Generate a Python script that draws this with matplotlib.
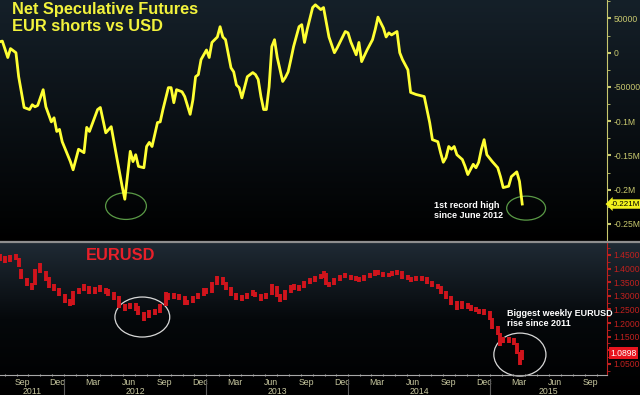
import matplotlib
matplotlib.use("Agg")
import matplotlib.pyplot as plt
import matplotlib.dates as mdates
import matplotlib.transforms as mtransforms
from matplotlib.colors import LinearSegmentedColormap
from matplotlib.patches import Ellipse
import numpy as np
import pandas as pd

# weekly data, week index counted from 2011-07-19
start = pd.Timestamp("2011-07-19")

# CFTC net speculative EUR positions (thousands of contracts)
cot_week = [0, 1, 3, 4, 6, 7, 9, 11, 12, 13,
            14, 16, 17, 19, 20, 21, 22, 23, 26, 27,
            29, 31, 32, 33, 36, 37, 39, 41, 43, 45,
            46, 48, 49, 50, 51, 53, 54, 55, 56, 58,
            59, 60, 62, 63, 64, 65, 67, 68, 70, 71,
            72, 73, 74, 76, 77, 78, 80, 81, 82, 83,
            85, 86, 87, 88, 89, 91, 93, 94, 95, 96,
            97, 98, 99, 100, 101, 102, 104, 105, 106, 107,
            108, 110, 111, 112, 113, 115, 116, 118, 119, 121,
            123, 124, 127, 128, 129, 131, 132, 133, 135, 137,
            138, 139, 141, 142, 143, 144, 146, 147, 148, 150,
            151, 153, 156, 157, 158, 159, 161, 162, 163, 164,
            165, 166, 167, 168, 170, 171, 172, 174, 175, 176,
            177, 178, 179, 181, 183, 184, 185, 187, 188, 190,
            191, 192]
cot_value = [16, 17, -7, 6, 0, -35, -80, -83, -76, -79,
             -77, -54, -79, -101, -95, -115, -112, -130, -159, -171,
             -141, -146, -109, -115, -83, -80, -117, -108, -152, -195,
             -214, -144, -159, -149, -166, -168, -137, -131, -137, -102,
             -101, -83, -51, -51, -73, -54, -57, -64, -90, -69,
             -35, -32, -10, 4, -7, 15, 23, 38, 23, 19,
             -22, -28, -47, -51, -66, -35, -29, -32, -39, -64,
             -83, -83, -50, 9, 19, -7, -42, -36, -28, -10,
             9, 38, 41, 15, 34, 66, 70, 63, 66, 23,
             0, 7, 31, 29, 16, -3, 15, -13, 4, 19,
             34, 52, 36, 23, 29, 26, 31, 0, -10, -25,
             -58, -61, -64, -83, -102, -127, -130, -146, -160, -153,
             -137, -141, -137, -149, -156, -166, -178, -163, -168, -160,
             -141, -127, -149, -159, -168, -181, -197, -195, -181, -174,
             -188, -221]

# EURUSD weekly bars
eur_week = [0, 2, 4, 6, 7, 8, 10, 12, 13, 15,
            17, 18, 20, 22, 24, 26, 27, 29, 31, 33,
            35, 37, 39, 40, 42, 44, 46, 48, 50, 51,
            53, 55, 57, 59, 61, 62, 64, 66, 68, 69,
            71, 73, 75, 76, 78, 80, 82, 83, 85, 87,
            89, 91, 93, 94, 96, 98, 100, 102, 103, 105,
            107, 108, 110, 112, 114, 116, 118, 119, 120, 121,
            123, 125, 127, 129, 131, 132, 134, 136, 138, 139,
            141, 143, 144, 146, 148, 150, 151, 153, 155, 157,
            159, 161, 162, 164, 166, 168, 170, 172, 173, 175,
            176, 178, 180, 181, 183, 184, 185, 187, 189, 190,
            191, 192]
eur_close = [1.439, 1.432, 1.439, 1.443, 1.413, 1.369, 1.347, 1.332, 1.387, 1.413,
             1.365, 1.340, 1.329, 1.310, 1.285, 1.274, 1.310, 1.321, 1.332, 1.314,
             1.321, 1.329, 1.314, 1.314, 1.296, 1.266, 1.255, 1.266, 1.259, 1.237,
             1.222, 1.237, 1.240, 1.262, 1.303, 1.296, 1.303, 1.296, 1.277, 1.274,
             1.292, 1.303, 1.321, 1.314, 1.340, 1.365, 1.351, 1.329, 1.310, 1.296,
             1.292, 1.303, 1.310, 1.303, 1.292, 1.303, 1.332, 1.303, 1.285, 1.314,
             1.329, 1.332, 1.329, 1.347, 1.355, 1.365, 1.369, 1.384, 1.347, 1.340,
             1.358, 1.369, 1.376, 1.365, 1.365, 1.358, 1.369, 1.376, 1.387, 1.384,
             1.376, 1.376, 1.384, 1.387, 1.369, 1.365, 1.358, 1.365, 1.365, 1.351,
             1.340, 1.332, 1.314, 1.296, 1.277, 1.255, 1.274, 1.259, 1.255, 1.248,
             1.240, 1.240, 1.218, 1.185, 1.163, 1.130, 1.138, 1.138, 1.126, 1.093,
             1.060, 1.0898]
eur_high = [1.452, 1.445, 1.450, 1.455, 1.440, 1.400, 1.365, 1.348, 1.400, 1.420,
            1.390, 1.368, 1.345, 1.330, 1.305, 1.290, 1.318, 1.330, 1.342, 1.335,
            1.332, 1.338, 1.330, 1.325, 1.315, 1.298, 1.270, 1.275, 1.272, 1.262,
            1.240, 1.248, 1.252, 1.270, 1.315, 1.312, 1.312, 1.308, 1.298, 1.285,
            1.300, 1.312, 1.330, 1.328, 1.350, 1.372, 1.368, 1.352, 1.332, 1.312,
            1.302, 1.312, 1.320, 1.315, 1.305, 1.312, 1.342, 1.335, 1.305, 1.320,
            1.338, 1.342, 1.340, 1.355, 1.365, 1.372, 1.380, 1.390, 1.385, 1.352,
            1.365, 1.378, 1.385, 1.378, 1.372, 1.370, 1.378, 1.385, 1.395, 1.395,
            1.388, 1.385, 1.390, 1.395, 1.390, 1.375, 1.370, 1.372, 1.372, 1.368,
            1.355, 1.345, 1.335, 1.318, 1.298, 1.280, 1.282, 1.275, 1.265, 1.260,
            1.252, 1.250, 1.245, 1.220, 1.190, 1.165, 1.150, 1.148, 1.145, 1.128,
            1.092, 1.100]
eur_low = [1.428, 1.420, 1.425, 1.430, 1.405, 1.360, 1.335, 1.320, 1.340, 1.385,
           1.355, 1.330, 1.318, 1.300, 1.275, 1.262, 1.268, 1.305, 1.318, 1.305,
           1.308, 1.315, 1.305, 1.300, 1.285, 1.255, 1.243, 1.250, 1.245, 1.228,
           1.208, 1.220, 1.228, 1.235, 1.262, 1.285, 1.288, 1.285, 1.268, 1.265,
           1.272, 1.290, 1.300, 1.305, 1.312, 1.340, 1.340, 1.320, 1.300, 1.285,
           1.280, 1.290, 1.298, 1.295, 1.280, 1.290, 1.302, 1.295, 1.278, 1.285,
           1.312, 1.322, 1.318, 1.328, 1.345, 1.352, 1.360, 1.365, 1.340, 1.332,
           1.340, 1.355, 1.365, 1.358, 1.356, 1.350, 1.355, 1.365, 1.374, 1.378,
           1.368, 1.368, 1.372, 1.378, 1.362, 1.358, 1.352, 1.355, 1.356, 1.345,
           1.332, 1.325, 1.305, 1.288, 1.268, 1.248, 1.252, 1.250, 1.245, 1.240,
           1.232, 1.230, 1.210, 1.178, 1.155, 1.115, 1.125, 1.128, 1.118, 1.085,
           1.046, 1.065]

cot_ticks = [50, 0, -50, -100, -150, -200, -250]
cot_labels = ["50000", "0", "-50000", "-0.1M", "-0.15M", "-0.2M", "-0.25M"]
eur_ticks = [1.45, 1.40, 1.35, 1.30, 1.25, 1.20, 1.15, 1.10, 1.05]
eur_labels = ["1.4500", "1.4000", "1.3500", "1.3000", "1.2500", "1.2000", "1.1500", "", "1.0500"]

cot_dates = start + pd.to_timedelta(np.array(cot_week) * 7, unit="D")
eur_dates = mdates.date2num(start + pd.to_timedelta(np.array(eur_week) * 7, unit="D"))

YELLOW = "#ffff33"
RED = "#d0141c"
AXIS_Y = "#c8c86e"
AXIS_R = "#c0201e"
XLAB = "#c8c8a0"
LAB_FONT = "Liberation Sans"

fig = plt.figure(figsize=(6.4, 3.95), dpi=100, facecolor="black")
W, H = 640.0, 395.0

# gradient backgrounds
grad = np.linspace(0, 1, 256).reshape(-1, 1)
bg1 = fig.add_axes([0, 1 - 241 / H, 1, 241 / H], zorder=0)
bg1.imshow(grad, aspect="auto", extent=[0, 1, 0, 1],
           cmap=LinearSegmentedColormap.from_list("t", ["#000000", "#152029"]), origin="lower")
bg1.axis("off")
bg2 = fig.add_axes([0, 0, 1, (H - 243) / H], zorder=0)
bg2.imshow(grad, aspect="auto", extent=[0, 1, 0, 1],
           cmap=LinearSegmentedColormap.from_list("b", ["#000000", "#05080b", "#1f2a34"]), origin="lower")
bg2.axis("off")
fig.add_artist(plt.Line2D([0, 1], [1 - 242 / H, 1 - 242 / H], color="#8e8e8e", lw=1.6,
                          transform=fig.transFigure, zorder=5))

x0 = pd.Timestamp("2011-07-20")
x1 = pd.Timestamp("2015-10-28")

# ---------------- top panel
ax1 = fig.add_axes([0, 1 - 241 / H, 607 / W, 241 / H], zorder=2)
ax1.set_facecolor("none")
ax1.plot(cot_dates, cot_value, color=YELLOW, lw=2.0, solid_joinstyle="round")
ax1.set_xlim(x0, x1)
ax1.set_ylim(-274, 77)
for s in ["top", "left", "bottom"]:
    ax1.spines[s].set_visible(False)
ax1.spines["right"].set_color(AXIS_Y)
ax1.spines["right"].set_linewidth(0.8)
ax1.yaxis.tick_right()
ax1.set_yticks(cot_ticks)
ax1.set_yticklabels(cot_labels, family=LAB_FONT)
ax1.set_yticks(np.arange(-275, 76, 25), minor=True)
ax1.tick_params(axis="y", which="major", colors=AXIS_Y, labelsize=6.2, length=3, width=1.5, pad=1.5)
ax1.tick_params(axis="y", which="minor", colors=AXIS_Y, length=2, width=0.6)
ax1.set_xticks([])

ax1.text(12 / 607, 1 - 2 / 241, "Net Speculative Futures\nEUR shorts vs USD", transform=ax1.transAxes,
         color="#f2f23c", fontsize=11.8, fontweight="bold", family="Liberation Sans", va="top", ha="left")
ax1.text(434 / 607, 1 - 201 / 241, "1st record high\nsince June 2012", transform=ax1.transAxes,
         color="white", fontsize=6.5, fontweight="bold", family="Liberation Sans", va="top", ha="left",
         linespacing=1.1)

d1 = mdates.date2num(start + pd.Timedelta(days=325))
d2 = mdates.date2num(start + pd.Timedelta(days=1354))
ax1.add_patch(Ellipse((d1, -224), 105, 39, fill=False, ec="#5a9a46", lw=0.9))
ax1.add_patch(Ellipse((d2, -227), 100, 35, fill=False, ec="#5a9a46", lw=0.9))

ax1.text(1.006, cot_value[-1], f"{cot_value[-1] / 1000:.3f}M", transform=ax1.get_yaxis_transform(),
         va="center", ha="left", fontsize=5.8, family=LAB_FONT, color="black", clip_on=False,
         bbox=dict(boxstyle="larrow,pad=0.15", fc="#f2f21e", ec="none"))

# ---------------- bottom panel
ax2 = fig.add_axes([0, 20 / H, 607 / W, 132 / H], zorder=2)
ax2.set_facecolor("none")
half = 3.5
ax2.vlines(eur_dates, eur_low, eur_high, color=RED, lw=2.8)
ax2.hlines(eur_close, eur_dates, eur_dates + half, color=RED, lw=1.2)
ax2.set_xlim(x0, x1)
ax2.set_ylim(1.009, 1.494)
for s in ["top", "left"]:
    ax2.spines[s].set_visible(False)
ax2.spines["right"].set_color(AXIS_R)
ax2.spines["right"].set_linewidth(0.8)
ax2.spines["bottom"].set_color("#a8a8a8")
ax2.spines["bottom"].set_linewidth(0.8)
ax2.yaxis.tick_right()
ax2.set_yticks(eur_ticks)
ax2.set_yticklabels(eur_labels, family=LAB_FONT)
ax2.set_yticks(np.arange(1.025, 1.49, 0.05), minor=True)
ax2.tick_params(axis="y", which="major", colors=AXIS_R, labelsize=6.2, length=3, width=1.5, pad=1.5)
ax2.tick_params(axis="y", which="minor", colors=AXIS_R, length=2, width=0.6)

ax2.xaxis.set_major_locator(mdates.MonthLocator(bymonth=[3, 6, 9, 12], bymonthday=15))
ax2.xaxis.set_major_formatter(mdates.DateFormatter("%b"))
ax2.xaxis.set_minor_locator(mdates.MonthLocator(bymonthday=1))
ax2.tick_params(axis="x", which="major", length=0, pad=2.5, labelsize=6.3, colors=XLAB)
ax2.tick_params(axis="x", which="minor", length=2, width=0.8, color="#a8a8a8", direction="inout")
for lbl in ax2.get_xticklabels():
    lbl.set_family(LAB_FONT)

trans = mtransforms.blended_transform_factory(ax2.transData, ax2.transAxes)
years = [2011, 2012, 2013, 2014, 2015]
for yr in years:
    a = max(pd.Timestamp(f"{yr}-01-01"), x0)
    b = min(pd.Timestamp(f"{yr + 1}-01-01"), x1)
    mid = a + (b - a) / 2
    ax2.text(mdates.date2num(mid), -17 / 132, str(yr), transform=trans, ha="center", va="center",
             fontsize=6.3, family=LAB_FONT, color=XLAB, clip_on=False)
    if yr > 2011:
        xd = mdates.date2num(pd.Timestamp(f"{yr}-01-01"))
        ax2.plot([xd, xd], [-4 / 132, -20 / 132], transform=trans, color="#5c5c5c", lw=0.8, clip_on=False)

ax2.text(86 / 607, 1 - 5 / 132, "EURUSD", transform=ax2.transAxes, color="#e8202a", fontsize=11.8,
         fontweight="bold", family="Liberation Sans", va="top", ha="left")
ax2.text(507 / 607, (375 - 309) / 132, "Biggest weekly EURUSD\nrise since 2011", transform=ax2.transAxes,
         color="white", fontsize=6.5, fontweight="bold", family="Liberation Sans", va="top", ha="left",
         linespacing=1.1, clip_on=False, zorder=6)

e1 = mdates.date2num(start + pd.Timedelta(days=367))
e2 = mdates.date2num(start + pd.Timedelta(days=1338))
ax2.add_patch(Ellipse((e1, 1.222), 141, 0.147, fill=False, ec="#d8d8d8", lw=0.9))
ax2.add_patch(Ellipse((e2, 1.084), 134, 0.158, fill=False, ec="#d8d8d8", lw=0.9, clip_on=False))

ax2.text(1.006, eur_close[-1], f"{eur_close[-1]:.4f}", transform=ax2.get_yaxis_transform(),
         va="center", ha="left", fontsize=6.2, family=LAB_FONT, color="white", clip_on=False,
         bbox=dict(boxstyle="square,pad=0.15", fc="#e8141e", ec="none"))

fig.savefig("out.png", dpi=100, facecolor="black")
